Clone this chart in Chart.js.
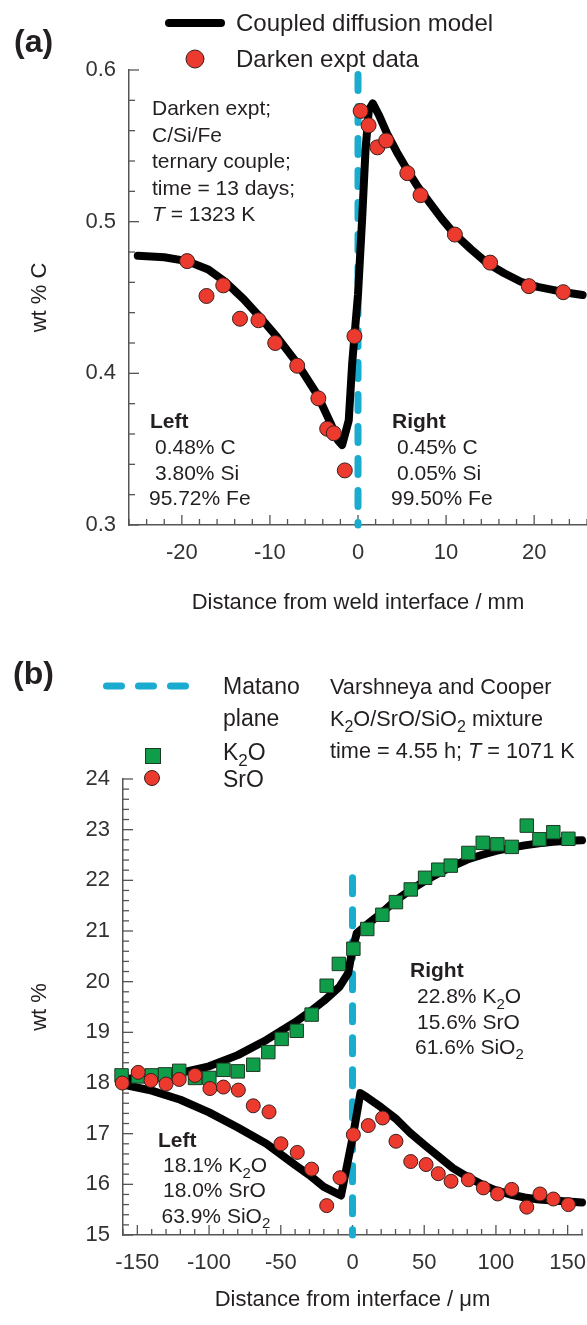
<!DOCTYPE html>
<html><head><meta charset="utf-8">
<script src="https://cdn.jsdelivr.net/npm/chart.js@4.4.1/dist/chart.umd.min.js"></script>
<style>
html,body{margin:0;padding:0;background:#fff;}
#wrap{position:relative;width:587px;height:1325px;overflow:hidden;}
.box{position:absolute;left:0;width:587px;}
#boxA{top:0;height:640px;}
#boxB{top:640px;height:685px;}
canvas{display:block;}
</style></head><body>
<div id="wrap">
<div class="box" id="boxA"><canvas id="cA" width="587" height="640"></canvas></div>
<div class="box" id="boxB"><canvas id="cB" width="587" height="685"></canvas></div>
</div>
<script>
// ---------- Chart (a): Darken C/Si/Fe couple ----------
const distA_model = [-25,-22,-19.4,-17,-15,-13,-11.5,-9.2,-6.9,-4.6,-3.1,-2.3,-1.8,-1.05,-0.66,-0.4,0,0.48,0.85,1.23,1.68,2.4,3.3,4.4,5.6,6.8,8.2,9.5,10.9,12.8,14.7,16.6,18.5,20.4,22.25,24,25.5];
const wtC_model   = [0.4775,0.4765,0.474,0.4685,0.460,0.449,0.4395,0.424,0.4066,0.3857,0.367,0.356,0.3527,0.369,0.4066,0.4246,0.452,0.503,0.547,0.5736,0.578,0.570,0.558,0.546,0.534,0.523,0.512,0.502,0.4923,0.482,0.4725,0.466,0.4604,0.457,0.4549,0.453,0.4516];
const distA_expt  = [-19.4,-17.2,-15.3,-13.4,-11.3,-9.4,-6.9,-4.5,-3.5,-2.75,-1.5,-0.4,0.3,1.2,2.2,3.2,5.6,7.1,11.0,15.0,19.4,23.3];
const wtC_expt    = [0.474,0.451,0.458,0.436,0.435,0.420,0.405,0.3835,0.3635,0.3605,0.336,0.4245,0.573,0.5635,0.549,0.5535,0.532,0.5175,0.4915,0.473,0.4575,0.4535];
const matanoA_y   = [0.597,0.3];
const xTicksA = [-20,-10,0,10,20];
const yTicksA = [0.3,0.4,0.5,0.6];

// ---------- Chart (b): Varshneya & Cooper K2O/SrO/SiO2 ----------
const distB_k2oModel = [-160,-140,-120,-100,-80,-60,-40,-30,-20,-9,-3,-0.5,3,12,20,30,40,50,60,70,80,90,100,110,120,130,140,150,160];
const k2o_model      = [18.08,18.12,18.2,18.33,18.55,18.85,19.2,19.4,19.62,19.9,20.17,20.57,20.96,21.17,21.35,21.6,21.8,21.98,22.14,22.28,22.41,22.5,22.58,22.64,22.69,22.73,22.76,22.78,22.79];
const distB_sroModel = [-160,-140,-120,-100,-80,-60,-40,-30,-20,-8,0.6,5.5,10,20,30,40,50,60,70,80,90,100,110,120,130,140,150,160];
const sro_model      = [17.97,17.85,17.67,17.42,17.12,16.8,16.38,16.18,15.95,15.78,17.0,17.8,17.72,17.52,17.3,17.02,16.78,16.55,16.32,16.15,16.0,15.88,15.8,15.74,15.7,15.68,15.66,15.64];
const distB_k2o = [-161,-149.4,-140,-130.7,-120.8,-109.8,-99.8,-90,-80,-69.2,-58.7,-49.4,-38.9,-28.5,-18,-9.5,0.6,10.3,20.8,30.3,40.6,50.6,59.8,68.5,80.8,90.8,101,111,121.5,130.3,140,150.5];
const wt_k2o    = [18.15,18.13,18.15,18.17,18.24,18.10,18.10,18.26,18.23,18.36,18.61,18.87,19.03,19.35,19.92,20.35,20.65,21.04,21.32,21.57,21.82,22.05,22.21,22.29,22.54,22.74,22.71,22.66,23.08,22.81,22.95,22.82];
const distB_sro = [-160.5,-149.4,-140.5,-130,-120.8,-109.8,-99.4,-90,-79.6,-69.2,-58.2,-49.9,-38.5,-28.5,-18,-8.7,0.6,11,21,30.3,40.6,51.3,59.8,68.7,80.8,91.2,101.2,111,121.5,130.7,140,150.5];
const wt_sro    = [18.00,18.21,18.05,17.98,18.07,18.15,17.89,17.92,17.86,17.55,17.43,16.80,16.63,16.30,15.58,16.13,16.98,17.16,17.31,16.85,16.45,16.39,16.21,16.06,16.09,15.93,15.81,15.90,15.55,15.81,15.71,15.60];
const matanoB_y = [22.05,15];
const xTicksB = [-150,-100,-50,0,50,100,150];
const yTicksB = [15,16,17,18,19,20,21,22,23,24];

// ---------- helpers ----------
const FONT = "'Liberation Sans', Arial, Helvetica, sans-serif";
const TXT = '#231f20';
const RED = '#ec3a2e', GREEN = '#0f9d4a', CYAN = '#1aaccf';
const pts = (xs, ys) => xs.map((x, i) => ({x, y: ys[i]}));

function rich(ctx, x, y, parts, size, o = {}) {
  const segs = parts.map(p => typeof p === 'string' ? {t: p} : p);
  const fontFor = s => `${s.it ? 'italic ' : ''}${o.bold ? 'bold ' : ''}${s.sub ? Math.round(size * 0.72) : size}px ${FONT}`;
  let total = 0;
  segs.forEach(s => { ctx.font = fontFor(s); s.w = ctx.measureText(s.t).width; total += s.w; });
  let cx = x;
  if (o.align === 'center') cx -= total / 2; else if (o.align === 'right') cx -= total;
  ctx.textAlign = 'left'; ctx.textBaseline = 'alphabetic'; ctx.fillStyle = o.color || TXT;
  segs.forEach(s => { ctx.font = fontFor(s); ctx.fillText(s.t, cx, s.sub ? y + size * 0.28 : y); cx += s.w; });
}

const decoPlugin = {
  id: 'deco',
  beforeDatasetsDraw(chart, args, opts) {
    const ctx = chart.ctx, xs = chart.scales.x, ys = chart.scales.y, a = chart.chartArea;
    ctx.save();
    ctx.strokeStyle = '#555'; ctx.lineWidth = 1.3;
    const nx = Math.round((xs.max - xs.min) / opts.xMinor);
    for (let i = 0; i <= nx; i++) {
      const v = xs.min + i * opts.xMinor;
      const major = opts.xMajor.some(m => Math.abs(m - v) < 1e-6);
      const px = xs.getPixelForValue(v);
      ctx.beginPath(); ctx.moveTo(px, a.bottom); ctx.lineTo(px, a.bottom - (major ? 10 : 6)); ctx.stroke();
    }
    const ny = Math.round((ys.max - ys.min) / opts.yMinor);
    for (let i = 0; i <= ny; i++) {
      const v = ys.min + i * opts.yMinor;
      const major = opts.yMajor.some(m => Math.abs(m - v) < 1e-6);
      const py = ys.getPixelForValue(v);
      ctx.beginPath(); ctx.moveTo(a.left, py); ctx.lineTo(a.left + (major ? 10 : 6), py); ctx.stroke();
    }
    ctx.restore();
  },
  afterDraw(chart, args, opts) {
    const ctx = chart.ctx;
    ctx.save();
    opts.annotate(ctx, chart);
    ctx.restore();
  }
};

function axisCommon(min, max, ticksArr, fmt, tickPad, title, titlePad, fitSize, horiz) {
  return {
    type: 'linear', min, max,
    afterBuildTicks: s => { s.ticks = ticksArr.map(v => ({value: v})); },
    afterFit: s => {
      if (horiz) s.height = fitSize; else s.width = fitSize;
      s.paddingLeft = 0; s.paddingRight = 0; s.paddingTop = 0; s.paddingBottom = 0;
    },
    grid: {display: false, drawTicks: false},
    border: {display: true, color: '#555', width: 1.5},
    ticks: {color: '#333', padding: tickPad, font: {family: FONT, size: 22}, callback: fmt, autoSkip: false, maxRotation: 0},
    title: {display: true, text: title, color: TXT, font: {family: FONT, size: 22}, padding: titlePad}
  };
}

// ---------- Chart (a) ----------
new Chart(document.getElementById('cA'), {
  type: 'scatter',
  data: {
    datasets: [
      {label: 'Darken expt data', data: pts(distA_expt, wtC_expt), pointRadius: 7.5, pointBackgroundColor: RED, pointBorderColor: '#3b1f1c', pointBorderWidth: 1, order: 0, clip: false},
      {label: 'Coupled diffusion model', data: pts(distA_model, wtC_model), showLine: true, pointRadius: 0, borderColor: '#000', borderWidth: 8, borderJoinStyle: 'round', borderCapStyle: 'round', order: 1, clip: false},
      {label: 'Matano', data: matanoA_y.map(y => ({x: 0, y})), showLine: true, pointRadius: 0, borderColor: CYAN, borderWidth: 7, borderDash: [16, 16], borderCapStyle: 'round', order: 2, clip: false}
    ]
  },
  options: {
    responsive: false, animation: false, devicePixelRatio: 1,
    layout: {autoPadding: false, padding: {top: 70, right: 0, left: 0, bottom: 0}},
    plugins: {
      legend: {display: false}, tooltip: {enabled: false},
      deco: {
        xMinor: 2, xMajor: xTicksA, yMinor: 0.02, yMajor: yTicksA,
        annotate(ctx) {
          rich(ctx, 14, 52, ['(a)'], 32, {bold: true});
          // legend
          ctx.strokeStyle = '#000'; ctx.lineWidth = 8; ctx.lineCap = 'round';
          ctx.beginPath(); ctx.moveTo(169, 23); ctx.lineTo(221, 23); ctx.stroke();
          rich(ctx, 236, 31, ['Coupled diffusion model'], 24);
          ctx.beginPath(); ctx.arc(195, 59, 9, 0, Math.PI * 2); ctx.fillStyle = RED; ctx.fill();
          ctx.lineWidth = 1; ctx.strokeStyle = '#3b1f1c'; ctx.stroke();
          rich(ctx, 236, 67, ['Darken expt data'], 24);
          // description
          rich(ctx, 152, 115, ['Darken expt;'], 21);
          rich(ctx, 152, 141.5, ['C/Si/Fe'], 21);
          rich(ctx, 152, 168, ['ternary couple;'], 21);
          rich(ctx, 152, 194.5, ['time = 13 days;'], 21);
          rich(ctx, 152, 221, [{t: 'T', it: true}, ' = 1323 K'], 21);
          // left / right compositions
          rich(ctx, 150, 428, ['Left'], 21, {bold: true});
          rich(ctx, 155, 454, ['0.48% C'], 21);
          rich(ctx, 155, 479.5, ['3.80% Si'], 21);
          rich(ctx, 149, 505, ['95.72% Fe'], 21);
          rich(ctx, 392, 428, ['Right'], 21, {bold: true});
          rich(ctx, 397, 454, ['0.45% C'], 21);
          rich(ctx, 397, 479.5, ['0.05% Si'], 21);
          rich(ctx, 391, 505, ['99.50% Fe'], 21);
        }
      }
    },
    scales: {
      x: axisCommon(-26, 26, xTicksA, v => String(v), 15, 'Distance from weld interface / mm', {top: 0, bottom: 24}, 115, true),
      y: axisCommon(0.3, 0.6, yTicksA, v => v.toFixed(1), 13, 'wt % C', {top: 27, bottom: 0}, 129, false)
    }
  },
  plugins: [decoPlugin]
});

// ---------- Chart (b) ----------
new Chart(document.getElementById('cB'), {
  type: 'scatter',
  data: {
    datasets: [
      {label: 'SrO', data: pts(distB_sro, wt_sro), pointRadius: 7, pointBackgroundColor: RED, pointBorderColor: '#3b1f1c', pointBorderWidth: 1, order: 0, clip: false},
      {label: 'K2O', data: pts(distB_k2o, wt_k2o), pointStyle: 'rect', pointRadius: 9.5, pointBackgroundColor: GREEN, pointBorderColor: '#1d3a24', pointBorderWidth: 1, order: 1, clip: false},
      {label: 'K2O model', data: pts(distB_k2oModel, k2o_model), showLine: true, pointRadius: 0, borderColor: '#000', borderWidth: 8, borderJoinStyle: 'round', borderCapStyle: 'round', order: 2, clip: false},
      {label: 'SrO model', data: pts(distB_sroModel, sro_model), showLine: true, pointRadius: 0, borderColor: '#000', borderWidth: 8, borderJoinStyle: 'round', borderCapStyle: 'round', order: 3, clip: false},
      {label: 'Matano plane', data: matanoB_y.map(y => ({x: 0, y})), showLine: true, pointRadius: 0, borderColor: CYAN, borderWidth: 7, borderDash: [16, 16], borderCapStyle: 'round', order: 4, clip: false}
    ]
  },
  options: {
    responsive: false, animation: false, devicePixelRatio: 1,
    layout: {autoPadding: false, padding: {top: 139, right: 5, left: 0, bottom: 0}},
    plugins: {
      legend: {display: false}, tooltip: {enabled: false},
      deco: {
        xMinor: 10, xMajor: xTicksB, yMinor: 0.2, yMajor: yTicksB,
        annotate(ctx) {
          const o = -640;
          rich(ctx, 13, 684 + o, ['(b)'], 32, {bold: true});
          // legend
          ctx.strokeStyle = CYAN; ctx.lineWidth = 7; ctx.lineCap = 'round'; ctx.setLineDash([15, 17]);
          ctx.beginPath(); ctx.moveTo(106.5, 686 + o); ctx.lineTo(186, 686 + o); ctx.stroke();
          ctx.setLineDash([]);
          rich(ctx, 223, 694 + o, ['Matano'], 23);
          rich(ctx, 223, 726 + o, ['plane'], 23);
          rich(ctx, 223, 760 + o, ['K', {t: '2', sub: true}, 'O'], 23);
          rich(ctx, 223, 787 + o, ['SrO'], 23);
          ctx.fillStyle = GREEN; ctx.fillRect(145.5, 748.5 + o, 15, 15);
          ctx.lineWidth = 1; ctx.strokeStyle = '#1d3a24'; ctx.strokeRect(145.5, 748.5 + o, 15, 15);
          ctx.beginPath(); ctx.arc(152, 778 + o, 7.5, 0, Math.PI * 2); ctx.fillStyle = RED; ctx.fill();
          ctx.strokeStyle = '#3b1f1c'; ctx.stroke();
          rich(ctx, 330, 694 + o, ['Varshneya and Cooper'], 21.7);
          rich(ctx, 330, 726 + o, ['K', {t: '2', sub: true}, 'O/SrO/SiO', {t: '2', sub: true}, ' mixture'], 21.7);
          rich(ctx, 330, 758 + o, ['time = 4.55 h; ', {t: 'T', it: true}, ' = 1071 K'], 21.7);
          // compositions
          rich(ctx, 410, 977 + o, ['Right'], 21, {bold: true});
          rich(ctx, 417, 1003 + o, ['22.8% K', {t: '2', sub: true}, 'O'], 21);
          rich(ctx, 417, 1028.5 + o, ['15.6% SrO'], 21);
          rich(ctx, 415, 1053.5 + o, ['61.6% SiO', {t: '2', sub: true}], 21);
          rich(ctx, 158, 1146.5 + o, ['Left'], 21, {bold: true});
          rich(ctx, 163, 1172 + o, ['18.1% K', {t: '2', sub: true}, 'O'], 21);
          rich(ctx, 163, 1197 + o, ['18.0% SrO'], 21);
          rich(ctx, 161.5, 1222.5 + o, ['63.9% SiO', {t: '2', sub: true}], 21);
        }
      }
    },
    scales: {
      x: axisCommon(-160, 160, xTicksB, v => String(v), 15, 'Distance from interface / \u03bcm', {top: 0, bottom: 12}, 90, true),
      y: axisCommon(15, 24, yTicksB, v => String(v), 13, 'wt %', {top: 27, bottom: 0}, 123, false)
    }
  },
  plugins: [decoPlugin]
});
</script>
</body></html>
